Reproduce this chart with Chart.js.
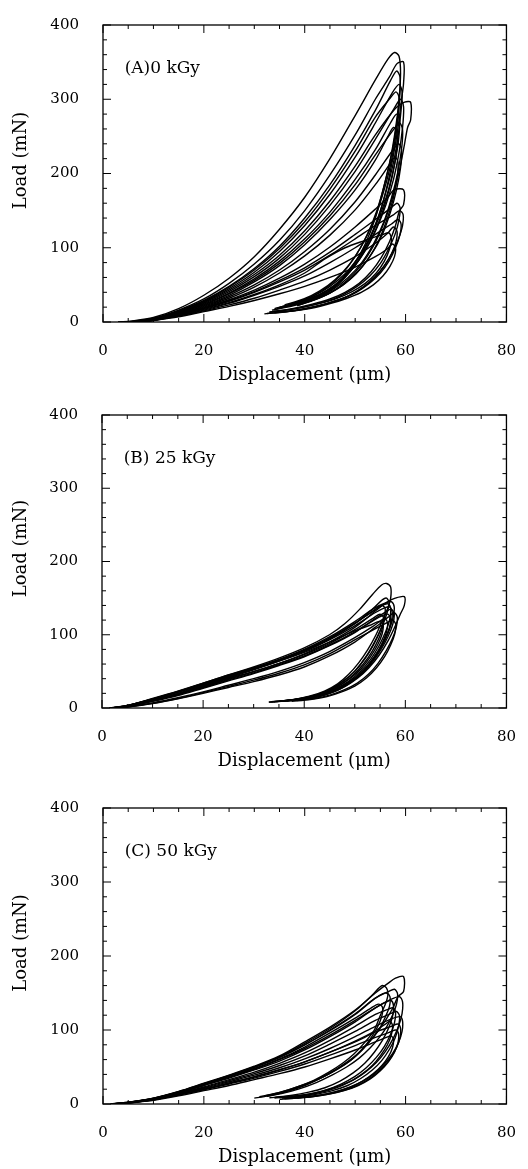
<!DOCTYPE html>
<html>
<head>
<meta charset="utf-8">
<script src="https://cdn.jsdelivr.net/npm/chart.js@4/dist/chart.umd.min.js"></script>
<style>
  body { margin: 0; background: #fff; width: 528px; height: 1169px; position: relative; overflow: hidden; }
  canvas { position: absolute; left: 0; }
</style>
</head>
<body>
<canvas id="chartA" width="528" height="390" style="top:0px"></canvas>
<canvas id="chartB" width="528" height="386" style="top:390px"></canvas>
<canvas id="chartC" width="528" height="386" style="top:783px"></canvas>
<script>
// load-displacement loops, [displacement um, load mN]
const xTicks = [0, 20, 40, 60, 80];
const yTicks = [0, 100, 200, 300, 400];
const panelLabels = ["(A)0 kGy", "(B) 25 kGy", "(C) 50 kGy"];
const xTitle = "Displacement (μm)";
const yTitle = "Load (mN)";

// (A) 0 kGy
const curvesA = [
  [[3,0],[6,1.5],[10,6],[15,18],[20,36],[25,59],[30,88],[35,125],[40,168],[45,220],[50,278],[54,326],[56.5,354],[57.8,363],[58.7,358],[59,335],[58.7,300],[58,260],[57,220],[55.6,180],[54,140],[52,105],[49.8,78],[47.3,56],[44.5,40],[41.5,29],[38.5,22]],
  [[3,0],[6,1.2],[10,5],[15,16],[20,31],[25,52],[30,78],[35,110],[40,150],[45,198],[50,252],[54,300],[56.8,330],[58.3,348],[59.6,350],[59.6,322],[59.2,300],[58.5,262],[57.6,225],[56.4,185],[54.8,145],[52.8,110],[50.5,82],[48,60],[45.2,43],[42,31],[39,24]],
  [[4,0],[7,1.3],[10,4.5],[15,15],[20,29],[25,48],[30,72],[35,102],[40,140],[45,185],[50,238],[54,285],[57,325],[58.2,338],[58.9,330],[58.8,300],[58.2,265],[57.3,228],[56,190],[54.3,150],[52.2,115],[49.8,86],[47,62],[44,45],[41,33],[37.5,25]],
  [[4,0],[7,1],[10,4],[15,14],[20,27],[25,45],[30,67],[35,95],[40,130],[45,172],[50,222],[54,268],[57.3,308],[58.7,320],[59.3,310],[59.1,285],[58.5,250],[57.6,215],[56.3,180],[54.6,142],[52.5,108],[50,80],[47.3,58],[44.3,42],[41,31],[37,24]],
  [[4,0],[7,1],[10,4],[15,13],[20,26],[25,43],[30,64],[35,90],[40,123],[45,163],[50,210],[54,252],[58,288],[59.8,296],[61,296],[61,272],[60.4,262],[59.8,240],[58.8,205],[57.5,170],[55.8,135],[53.6,102],[51,75],[48.2,55],[45.2,40],[42,30],[38.5,22]],
  [[4,0],[7,1],[10,3.8],[15,13],[20,25],[25,41],[30,61],[35,86],[40,118],[45,157],[50,203],[54,246],[57.5,285],[59,300],[59.6,290],[59.4,262],[58.7,228],[57.6,192],[56.1,158],[54.2,125],[52,96],[49.5,72],[46.8,53],[43.8,39],[40.5,29],[36.5,21]],
  [[4,0],[7,0.9],[10,3.5],[15,12],[20,24],[25,39],[30,58],[35,82],[40,112],[45,148],[50,192],[54,232],[57,268],[58.2,280],[58.8,272],[58.6,245],[57.8,212],[56.6,178],[55,145],[53,114],[50.6,87],[48,65],[45,48],[42,36],[38.5,27],[35,20]],
  [[5,0],[8,1],[10,3],[15,11],[20,22],[25,36],[30,54],[35,76],[40,104],[45,138],[50,178],[54,218],[56.5,250],[57.6,262],[58.3,255],[58.2,230],[57.4,198],[56.2,165],[54.6,133],[52.6,104],[50.2,78],[47.5,58],[44.5,43],[41.2,32],[37.5,24],[34,18]],
  [[5,0],[8,1],[10,3],[15,11],[20,21],[25,34],[30,50],[35,70],[40,95],[45,125],[50,162],[54,198],[57.3,230],[58.6,240],[59.2,232],[59,208],[58.2,178],[57,148],[55.4,118],[53.3,92],[50.8,70],[48,52],[45,39],[41.8,30],[38,23],[34.5,18]],
  [[5,0],[8,0.8],[10,2.8],[15,10],[20,19],[25,30],[30,43],[35,59],[40,78],[45,101],[50,128],[54,152],[56.5,168],[57.7,178],[59.6,178],[59.6,158],[58.8,150],[58,130],[56.8,108],[55.2,87],[53.2,68],[50.8,52],[48,40],[45,31],[41.5,24],[37.5,18],[33.5,14]],
  [[5,0],[8,0.8],[10,2.5],[15,9],[20,18],[25,28],[30,40],[35,54],[40,70],[45,90],[50,112],[54,130],[57.5,144],[58.8,150],[59.5,145],[59.4,130],[58.6,112],[57.4,94],[55.8,76],[53.8,60],[51.4,46],[48.6,35],[45.5,27],[42,21],[38,16],[34,13]],
  [[5,0],[8,0.7],[10,2.3],[15,8.5],[20,16],[25,25],[30,36],[35,48],[40,62],[45,80],[50,100],[54,118],[57.2,132],[58.5,138],[59.1,132],[58.9,118],[58,100],[56.7,82],[55,66],[52.8,52],[50.2,40],[47.3,31],[44,24],[40.5,18],[36.5,14],[32.5,11.5]],
  [[6,0],[8,0.6],[10,2],[15,8],[20,15],[25,23],[30,32],[35,43],[40,55],[45,70],[50,88],[54,106],[56.5,120],[57.6,128],[58.3,122],[58.1,108],[57.2,92],[55.8,76],[54,61],[51.8,48],[49.2,37],[46.3,29],[43,22],[39.5,17],[35.5,13],[32,11]],
  [[6,0],[8,0.6],[10,2],[15,7],[20,14],[25,21],[30,29],[35,38],[40,48],[45,60],[50,74],[54,88],[56.3,98],[57.4,105],[58,100],[57.8,88],[56.9,75],[55.5,62],[53.6,50],[51.2,40],[48.4,32],[45.2,25],[41.8,19],[38,15],[34,12.5]],
  [[5,0],[10,2.5],[15,9],[20,17],[25,26],[30,37],[35,50],[40,66],[44,85],[48,100],[52,110],[55.5,118],[56.7,120],[57.2,112],[56.8,98],[55.8,82],[54.2,66],[52,52],[49.4,41],[46.4,32],[43,25],[39.2,19],[35.5,15],[33,13]],
  [[3.5,0],[7,1.2],[10,4.5],[15,15],[20,28],[25,47],[30,70],[35,99],[40,135],[45,179],[50,230],[54,276],[57,302],[58.1,310],[58.7,302],[58.5,275],[57.8,240],[56.8,205],[55.4,170],[53.6,135],[51.4,104],[48.9,78],[46,57],[43,42],[39.8,31],[36,23]],
  [[5,0],[8,0.9],[10,2.9],[15,10.5],[20,20],[25,32],[30,47],[35,66],[40,89],[45,117],[50,151],[54,185],[56.8,212],[57.9,222],[58.5,215],[58.3,192],[57.5,165],[56.3,138],[54.7,110],[52.7,86],[50.2,65],[47.4,49],[44.3,37],[41,28],[37.3,21],[33.5,16]],
  [[5,0],[8,0.8],[10,2.6],[15,9.5],[20,18.5],[25,29],[30,41],[35,56],[40,73],[45,94],[50,118],[54,138],[57,153],[58.3,160],[58.9,154],[58.7,138],[57.9,118],[56.6,98],[55,79],[52.9,62],[50.4,48],[47.6,37],[44.5,28],[41,22],[37,17],[33,13.5]],
  [[4.5,0],[7.5,1],[10,3.4],[15,12],[20,23],[25,38],[30,56],[35,79],[40,108],[45,143],[50,185],[54,225],[57.5,258],[58.8,268],[59.4,259],[59.2,233],[58.4,200],[57.2,167],[55.7,135],[53.7,106],[51.3,80],[48.6,60],[45.6,44],[42.3,33],[38.8,25],[35,19]]
];

// (B) 25 kGy
const curvesB = [
  [[1.5,0],[5,3],[10,12],[15,22],[20,34],[25,45],[30,56],[35,68],[40,82],[45,100],[48,115],[51,135],[53.5,155],[55.3,168],[56.3,170],[57.1,165],[57.1,150],[56.6,138],[55.5,120],[54.2,100],[52.6,80],[50.8,62],[48.8,46],[46.6,33],[44,23],[41,16],[37.5,11],[34,8.5]],
  [[2,0],[5,2.5],[10,10],[15,19],[20,29],[25,40],[30,50],[35,61],[40,74],[45,90],[50,110],[54,132],[56.5,145],[58,150],[59.8,152],[59.8,140],[59,128],[58,112],[56.6,92],[54.8,72],[52.8,55],[50.6,41],[48.2,30],[45.5,21],[42.5,15],[39,11.5],[36,10]],
  [[2,0],[5,2.8],[10,11],[15,20],[20,31],[25,42],[30,53],[35,65],[40,78],[45,94],[50,115],[53.5,135],[55.5,148],[56.3,150],[56.8,143],[56.3,128],[55.3,110],[53.9,90],[52.2,70],[50.2,52],[48,38],[45.6,27],[42.8,19],[39.5,13.5],[36,10],[33,8]],
  [[1.5,0],[5,3.5],[10,13],[15,23],[20,34],[25,45],[30,55],[35,66],[40,79],[45,95],[50,115],[53.5,132],[55.3,140],[56,136],[55.8,122],[55,105],[53.7,86],[52,67],[50,50],[47.8,37],[45.3,26],[42.5,18],[39,12.5],[35.5,9.5]],
  [[2.5,0],[5,2],[10,9],[15,17],[20,27],[25,37],[30,47],[35,58],[40,70],[45,85],[50,103],[54,122],[56.3,132],[57.2,135],[57.8,128],[57.5,114],[56.6,98],[55.2,80],[53.4,62],[51.3,46],[49,34],[46.4,24],[43.5,17],[40,12],[36.5,9.5]],
  [[2.5,0],[5,2.2],[10,9.5],[15,18],[20,28],[25,38],[30,48],[35,59],[40,71],[45,86],[50,104],[53.8,120],[55.8,127],[56.6,128],[57.1,121],[56.8,108],[55.9,92],[54.5,75],[52.8,58],[50.8,44],[48.5,32],[46,23],[43,16],[39.5,11.5],[35,9]],
  [[3,0],[5,1.5],[10,7],[15,14],[20,22],[25,31],[30,40],[35,50],[40,62],[45,77],[50,96],[53.5,111],[55.3,120],[56,122],[56.5,115],[56.2,102],[55.3,87],[54,71],[52.3,55],[50.3,42],[48,31],[45.5,22],[42.5,16],[39,11.5]],
  [[3,0],[5,1.2],[10,6],[15,12.5],[20,20],[25,28],[30,36],[35,45],[40,56],[45,71],[50,90],[54,110],[56.6,124],[57.8,130],[58.4,124],[58.2,110],[57.4,94],[56.2,78],[54.6,61],[52.7,46],[50.5,34],[48,25],[45.2,18],[42,13],[38.5,10]],
  [[2,0],[5,3],[10,12],[15,22],[20,32],[25,43],[30,53],[35,64],[40,76],[45,90],[49.5,104],[53,113],[54.8,118],[55.6,114],[55.4,101],[54.5,86],[53.1,70],[51.3,54],[49.2,41],[46.8,30],[44,21],[41,15],[37.5,11],[33.5,8.5]],
  [[1.5,0],[5,3.2],[10,12.5],[15,22.5],[20,33],[25,44],[30,54],[35,66],[40,80],[45,97],[50,118],[53.8,136],[56.3,144],[57.3,145],[57.8,138],[57.6,124],[56.8,107],[55.5,88],[53.8,69],[51.8,52],[49.5,38],[47,28],[44.2,20],[41,14],[37.5,10.5],[34.5,8.5]],
  [[2,0],[5,2.6],[10,10.5],[15,19.5],[20,30],[25,41],[30,52],[35,64],[40,77],[45,93],[50,112],[54,130],[56,137],[56.9,138],[57.4,131],[57.2,117],[56.4,100],[55,81],[53.2,63],[51.1,47],[48.8,35],[46.2,25],[43.3,18],[40,13],[36.5,10]],
  [[1.8,0],[5,3.1],[10,12],[15,21.5],[20,32],[25,43],[30,54],[35,65.5],[40,79],[45,95.5],[50,116],[53.8,133],[55.8,141],[56.6,142],[57.1,136],[56.9,121],[56.1,104],[54.8,85],[53.1,66],[51,49],[48.7,36],[46.1,26],[43.2,18.5],[40,13],[36.5,10],[33,8]],
  [[2.2,0],[5,2.4],[10,9.8],[15,18.5],[20,28.5],[25,39],[30,49.5],[35,60.5],[40,73],[45,88],[50,107],[53.5,122],[55,128],[55.7,123],[55.5,110],[54.7,94],[53.4,77],[51.7,60],[49.7,45],[47.4,33],[44.8,23.5],[41.8,16.5],[38.5,11.5],[35,9]],
  [[3,0],[5,1.4],[10,6.5],[15,13],[20,21],[25,29.5],[30,38],[35,47.5],[40,59],[45,74],[50,93],[54,108],[56.5,117],[57.5,120],[58.1,114],[57.9,101],[57.1,86],[55.9,70],[54.3,55],[52.3,41],[50,30],[47.4,22],[44.5,15.5],[41.2,11.5],[37.5,9]]
];

// (C) 50 kGy
const curvesC = [
  [[1.5,0],[5,2.5],[10,8],[15,17],[20,28],[25,39],[30,51],[35,65],[40,84],[45,104],[50,127],[54,150],[56.5,163],[58,170],[59.6,172],[59.6,152],[58.5,145],[57.5,130],[56.2,115],[54.7,100],[52.8,84],[50.5,68],[48,55],[45,42],[42,31],[38.5,21],[35,14],[32,10],[30,8]],
  [[2,0],[5,2.2],[10,7.5],[15,16],[20,27],[25,38],[30,50],[35,64],[40,82],[45,102],[50,126],[53.5,148],[55.3,160],[56.2,157],[56.5,148],[56,135],[55,120],[53.8,100],[52,84],[49.8,68],[47.5,55],[44.8,43],[41.8,32],[38.5,23],[35.2,16],[32,11]],
  [[2,0],[5,2],[10,7],[15,15],[20,25],[25,35],[30,46],[35,58],[40,73],[45,91],[50,111],[54,130],[57,141],[58.8,145],[59.4,138],[59.3,122],[58.6,105],[57.5,88],[56,71],[54.2,56],[52,43],[49.5,32],[46.6,24],[43.5,17],[40,12.5],[36.5,10],[33,8.5]],
  [[2,0],[5,2],[10,7],[15,15],[20,25],[25,36],[30,47],[35,60],[40,75],[45,93],[50,113],[54,130],[56.2,138],[57.1,140],[57.6,133],[57.4,118],[56.6,102],[55.4,86],[53.8,70],[51.9,55],[49.6,42],[47,31],[44,22],[40.8,16],[37.2,11.5],[34,9]],
  [[3,0],[5,1.5],[10,6],[15,13],[20,21],[25,30],[30,39],[35,49],[40,61],[45,75],[50,91],[54,105],[57.2,115],[58.9,118],[59.4,112],[59.3,98],[58.6,83],[57.4,68],[55.8,54],[53.8,41],[51.5,31],[48.8,22],[45.8,16],[42.5,11.5],[39,9],[36,8]],
  [[3,0],[5,1.3],[10,5.5],[15,12],[20,19],[25,27],[30,35],[35,44],[40,54],[45,66],[50,79],[54,90],[56.8,97],[58.1,100],[58.6,95],[58.5,83],[57.8,70],[56.6,57],[55,45],[53,34],[50.6,25],[47.8,18],[44.6,13],[41,9.5],[37.5,7.5],[35,6.5]],
  [[2.5,0],[5,1.8],[10,6.5],[15,14],[20,23],[25,33],[30,43],[35,55],[40,69],[45,86],[50,105],[54,121],[56.5,128],[57.5,130],[58,124],[57.8,110],[57,94],[55.8,78],[54.2,63],[52.2,49],[49.9,37],[47.2,27],[44.2,19],[41,13.5],[37.5,10],[34,8]],
  [[1.5,0],[5,2.3],[10,7.8],[15,16.5],[20,27.5],[25,38.5],[30,50],[35,63],[40,80],[45,99],[50,121],[53.8,142],[55.5,149],[56.2,150],[56.9,145],[56.8,132],[56,118],[54.9,103],[53.3,88],[51.4,73],[49.1,59],[46.5,47],[43.5,36],[40.2,27],[36.8,19],[33.5,13],[31,10]],
  [[3,0],[5,1.4],[10,5.8],[15,12.5],[20,20],[25,28.5],[30,37],[35,46.5],[40,57],[45,70],[50,84],[54,97],[57.2,105],[58.5,108],[59,102],[58.9,90],[58.2,76],[57,62],[55.4,49],[53.4,37],[51,27],[48.3,19.5],[45.2,14],[41.8,10],[38.5,8]],
  [[3.5,0],[5,1.2],[10,5],[15,11],[20,18],[25,25],[30,33],[35,41],[40,50],[45,61],[50,73],[54,84],[56.2,90],[57.1,92],[57.6,87],[57.4,76],[56.6,64],[55.3,52],[53.6,41],[51.5,31],[49,23],[46.2,16.5],[43,12],[39.5,9],[36,7]],
  [[2,0],[5,2.1],[10,7.2],[15,15.5],[20,26],[25,37],[30,48],[35,61],[40,77],[45,96],[50,116],[53.2,130],[54.6,135],[55.4,131],[55.3,119],[54.5,105],[53.3,91],[51.8,77],[49.8,63],[47.4,51],[44.6,40],[41.5,30],[38.2,21],[35,14.5],[32,11]],
  [[2,0],[5,2.2],[10,7.6],[15,16.2],[20,27],[25,38],[30,49.5],[35,63],[40,80],[45,100],[50,122],[54,143],[56.6,152],[57.8,155],[58.4,149],[58.2,135],[57.4,120],[56.3,105],[54.8,90],[53,76],[50.8,62],[48.3,50],[45.4,39],[42.3,29],[38.9,20.5],[35.4,14],[32.5,10.5]],
  [[2.5,0],[5,1.7],[10,6.3],[15,13.5],[20,22],[25,31.5],[30,41],[35,52],[40,65],[45,81],[50,98],[54,113],[57,122],[58.2,125],[58.8,119],[58.6,105],[57.9,89],[56.8,74],[55.3,59],[53.4,46],[51.1,34.5],[48.5,25],[45.5,18],[42.2,13],[38.8,9.5],[35.5,8]],
  [[3,0],[5,1.4],[10,5.7],[15,12.3],[20,19.8],[25,28],[30,36.5],[35,46],[40,57],[45,70],[50,85],[54,99],[56,108],[56.9,112],[57.4,106],[57.2,94],[56.4,80],[55.1,66],[53.4,52],[51.3,40],[48.8,29.5],[46,21],[42.8,15],[39.3,10.5],[36,8]]
];

const serif = "'DejaVu Serif', 'Liberation Serif', serif";

// box, inward ticks, panel label and rotated y title
const framePlugin = {
  id: "frame",
  afterDatasetsDraw(chart, args, opts) {
    const { ctx, chartArea: a, scales: { x, y } } = chart;
    ctx.save();
    ctx.strokeStyle = "#000";
    ctx.lineWidth = 1.3;
    ctx.strokeRect(a.left, a.top, a.right - a.left, a.bottom - a.top);
    ctx.lineWidth = 1;
    ctx.beginPath();
    for (let v = 0; v <= 80; v += 5) {
      const px = x.getPixelForValue(v);
      const len = xTicks.includes(v) ? 8 : 4;
      ctx.moveTo(px, a.bottom); ctx.lineTo(px, a.bottom - len);
      ctx.moveTo(px, a.top); ctx.lineTo(px, a.top + len);
    }
    for (let v = 0; v <= 400; v += 20) {
      const py = y.getPixelForValue(v);
      const len = yTicks.includes(v) ? 8 : 4;
      ctx.moveTo(a.left, py); ctx.lineTo(a.left + len, py);
      ctx.moveTo(a.right, py); ctx.lineTo(a.right - len, py);
    }
    ctx.stroke();

    ctx.fillStyle = "#000";
    ctx.font = "17px " + serif;
    ctx.textAlign = "left";
    ctx.textBaseline = "middle";
    ctx.fillText(opts.label, x.getPixelForValue(4.3), y.getPixelForValue(341));

    ctx.translate(21, (a.top + a.bottom) / 2 - 13);
    ctx.rotate(-Math.PI / 2);
    ctx.font = "18px " + serif;
    ctx.textAlign = "center";
    ctx.fillText(yTitle, 0, 0);
    ctx.restore();
  }
};

function makeChart(id, curves, label, pad, yWidth, xHeight, titleBottom) {
  return new Chart(document.getElementById(id), {
    type: "scatter",
    data: {
      datasets: curves.map(c => ({
        data: c,
        showLine: true,
        borderColor: "#000",
        borderWidth: 1.4,
        pointRadius: 0,
        tension: 0.3,
        fill: false
      }))
    },
    options: {
      responsive: false,
      animation: false,
      layout: { padding: pad },
      plugins: {
        legend: { display: false },
        tooltip: { enabled: false },
        frame: { label: label }
      },
      scales: {
        x: {
          type: "linear",
          min: 0,
          max: 80,
          grid: { display: false },
          border: { display: false },
          afterBuildTicks: s => { s.ticks = xTicks.map(v => ({ value: v })); },
          afterFit: s => { s.height = xHeight; },
          ticks: { color: "#000", padding: 12, font: { family: serif, size: 15 } },
          title: {
            display: true,
            text: xTitle,
            color: "#000",
            padding: { top: 0, bottom: titleBottom },
            font: { family: serif, size: 18 }
          }
        },
        y: {
          type: "linear",
          min: 0,
          max: 400,
          grid: { display: false },
          border: { display: false },
          afterBuildTicks: s => { s.ticks = yTicks.map(v => ({ value: v })); },
          afterFit: s => { s.width = yWidth; },
          ticks: { color: "#000", padding: 16, font: { family: serif, size: 15 } }
        }
      }
    },
    plugins: [framePlugin]
  });
}

makeChart("chartA", curvesA, panelLabels[0], { top: 23, right: 11, bottom: 0, left: 0 }, 103, 68, 4);
makeChart("chartB", curvesB, panelLabels[1], { top: 22, right: 15, bottom: 0, left: 0 }, 102, 68, 4);
makeChart("chartC", curvesC, panelLabels[2], { top: 25, right: 15, bottom: 0, left: 0 }, 103, 65, 1);
</script>
</body>
</html>
